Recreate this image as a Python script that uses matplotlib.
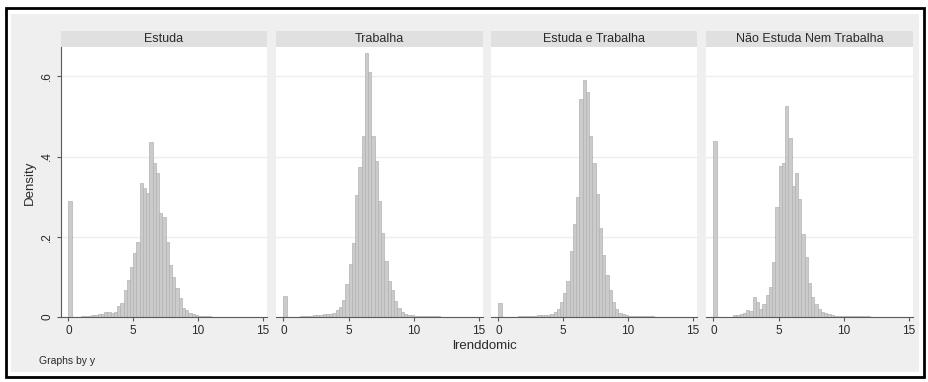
import matplotlib
matplotlib.use("Agg")
import matplotlib.pyplot as plt
from matplotlib.patches import Rectangle
import numpy as np

plt.rcParams['font.family'] = ['Liberation Sans', 'DejaVu Sans']

panel_titles = ["Estuda", "Trabalha", "Estuda e Trabalha", "Não Estuda Nem Trabalha"]
bin_width = 0.25
bin_left = [i * 0.25 for i in range(61)]

dens_estuda = [0.288, 0.001, 0.001, 0.001, 0.002, 0.002, 0.002, 0.004, 0.004, 0.007,
               0.007, 0.013, 0.013, 0.011, 0.012, 0.027, 0.035, 0.068, 0.093, 0.125,
               0.160, 0.186, 0.335, 0.322, 0.310, 0.435, 0.383, 0.360, 0.260, 0.250,
               0.188, 0.129, 0.100, 0.073, 0.048, 0.023, 0.017, 0.010, 0.007, 0.004,
               0.003, 0.002, 0.002, 0.002, 0.001, 0.001, 0.001, 0.001, 0.001, 0.001,
               0.001, 0.001, 0.001, 0.001, 0.001, 0.001, 0.001, 0.001, 0.001, 0.001,
               0.001]
dens_trabalha = [0.052, 0.001, 0.001, 0.001, 0.001, 0.002, 0.002, 0.002, 0.002, 0.004,
                 0.004, 0.004, 0.008, 0.008, 0.007, 0.011, 0.017, 0.025, 0.043, 0.083,
                 0.132, 0.185, 0.304, 0.375, 0.452, 0.657, 0.610, 0.452, 0.390, 0.290,
                 0.210, 0.140, 0.090, 0.068, 0.040, 0.022, 0.013, 0.008, 0.006, 0.004,
                 0.002, 0.002, 0.002, 0.002, 0.002, 0.002, 0.002, 0.002, 0.001, 0.001,
                 0.001, 0.001, 0.001, 0.001, 0.001, 0.001, 0.001, 0.001, 0.001, 0.001,
                 0.001]
dens_estuda_trabalha = [0.035, 0.001, 0.001, 0.001, 0.001, 0.001, 0.002, 0.002, 0.002, 0.002,
                        0.002, 0.002, 0.004, 0.004, 0.004, 0.006, 0.008, 0.0125, 0.021, 0.0375,
                        0.060, 0.090, 0.165, 0.232, 0.300, 0.543, 0.590, 0.560, 0.450, 0.385,
                        0.307, 0.222, 0.154, 0.104, 0.068, 0.0375, 0.021, 0.010, 0.007, 0.004,
                        0.002, 0.002, 0.002, 0.002, 0.002, 0.002, 0.002, 0.002, 0.001, 0.001,
                        0.001, 0.001, 0.001, 0.001, 0.001, 0.001, 0.001, 0.001, 0.001, 0.001,
                        0.001]
dens_nem = [0.439, 0.001, 0.001, 0.001, 0.001, 0.001, 0.004, 0.004, 0.007, 0.011,
            0.017, 0.015, 0.050, 0.0375, 0.021, 0.033, 0.054, 0.075, 0.1375, 0.273,
            0.377, 0.385, 0.527, 0.446, 0.327, 0.358, 0.293, 0.207, 0.150, 0.085,
            0.050, 0.032, 0.021, 0.0125, 0.010, 0.007, 0.004, 0.002, 0.002, 0.002,
            0.002, 0.002, 0.002, 0.002, 0.002, 0.002, 0.002, 0.002, 0.001, 0.001,
            0.001, 0.001, 0.001, 0.001, 0.001, 0.001, 0.001, 0.001, 0.001, 0.001,
            0.001]
all_dens = [dens_estuda, dens_trabalha, dens_estuda_trabalha, dens_nem]

x_ticks = [0, 5, 10, 15]
y_ticks = [0, 0.2, 0.4, 0.6]
y_tick_labels = ["0", ".2", ".4", ".6"]
x_label = "lrenddomic"
y_label = "Density"
note = "Graphs by y"

W, H = 929, 382
fig = plt.figure(figsize=(W / 100, H / 100), dpi=100)
fig.patch.set_facecolor("white")

def fx(px):
    return px / W

def fy(py):
    return 1 - py / H

# graph region and outer frame
fig.patches.append(Rectangle((fx(11), fy(372)), fx(919) - fx(11), fy(14) - fy(372),
                             transform=fig.transFigure, facecolor="#efefef",
                             edgecolor="none", zorder=-10))
fig.patches.append(Rectangle((fx(6), fy(377)), fx(924) - fx(6), fy(8) - fy(377),
                             transform=fig.transFigure, facecolor="none",
                             edgecolor="black", linewidth=2, zorder=10))

panels_x = [(61, 267), (276, 483), (491, 697), (706, 913)]
top, bottom, head_top = 47, 317, 31
text_color = "#2a2a2a"

for i, ((x0, x1), title, dens) in enumerate(zip(panels_x, panel_titles, all_dens)):
    ax = fig.add_axes([fx(x0), fy(bottom), fx(x1) - fx(x0), fy(top) - fy(bottom)])
    ax.set_zorder(2)
    ax.set_facecolor("white")
    ax.bar(bin_left, dens, width=bin_width, align="edge", color="#cbcbcb",
           edgecolor="#b2b2b2", linewidth=0.5, zorder=2)
    ax.set_xlim(-0.57, 15.31)
    ax.set_ylim(0, 0.673)
    ax.set_yticks(y_ticks)
    ax.grid(axis="y", color="#ededed", linewidth=1.0, zorder=0)
    ax.set_axisbelow(True)
    for s in ["top", "right"]:
        ax.spines[s].set_visible(False)
    ax.spines["bottom"].set_color("#5a5a5a")
    ax.spines["bottom"].set_linewidth(0.8)
    ax.set_xticks(x_ticks)
    ax.set_xticklabels([str(t) for t in x_ticks])
    ax.tick_params(axis="x", length=3, width=0.8, color="#5a5a5a", labelsize=8.5,
                   labelcolor=text_color, pad=2.5)
    if i == 0:
        ax.spines["left"].set_color("#5a5a5a")
        ax.spines["left"].set_linewidth(0.8)
        ax.set_yticklabels(y_tick_labels, rotation=90, va="center")
        ax.tick_params(axis="y", length=3, width=0.8, color="#5a5a5a", labelsize=8.5,
                       labelcolor=text_color, pad=2.5)
    else:
        ax.spines["left"].set_visible(False)
        ax.tick_params(axis="y", length=0, labelleft=False)
    # header strip
    fig.patches.append(Rectangle((fx(x0), fy(top)), fx(x1) - fx(x0), fy(head_top) - fy(top),
                                 transform=fig.transFigure, facecolor="#e0e0e0",
                                 edgecolor="none", zorder=1))
    fig.text(fx((x0 + x1) / 2), fy((head_top + top) / 2), title, ha="center", va="center",
             fontsize=9, color=text_color)

fig.text(fx(30), fy(183), y_label, rotation=90, ha="center", va="center",
         fontsize=9.5, color=text_color)
fig.text(fx(485), fy(346), x_label, ha="center", va="center", fontsize=9.5, color=text_color)
fig.text(fx(39), fy(361), note, ha="left", va="center", fontsize=7.5, color=text_color)

fig.savefig("out.png", dpi=100, facecolor=fig.get_facecolor())
